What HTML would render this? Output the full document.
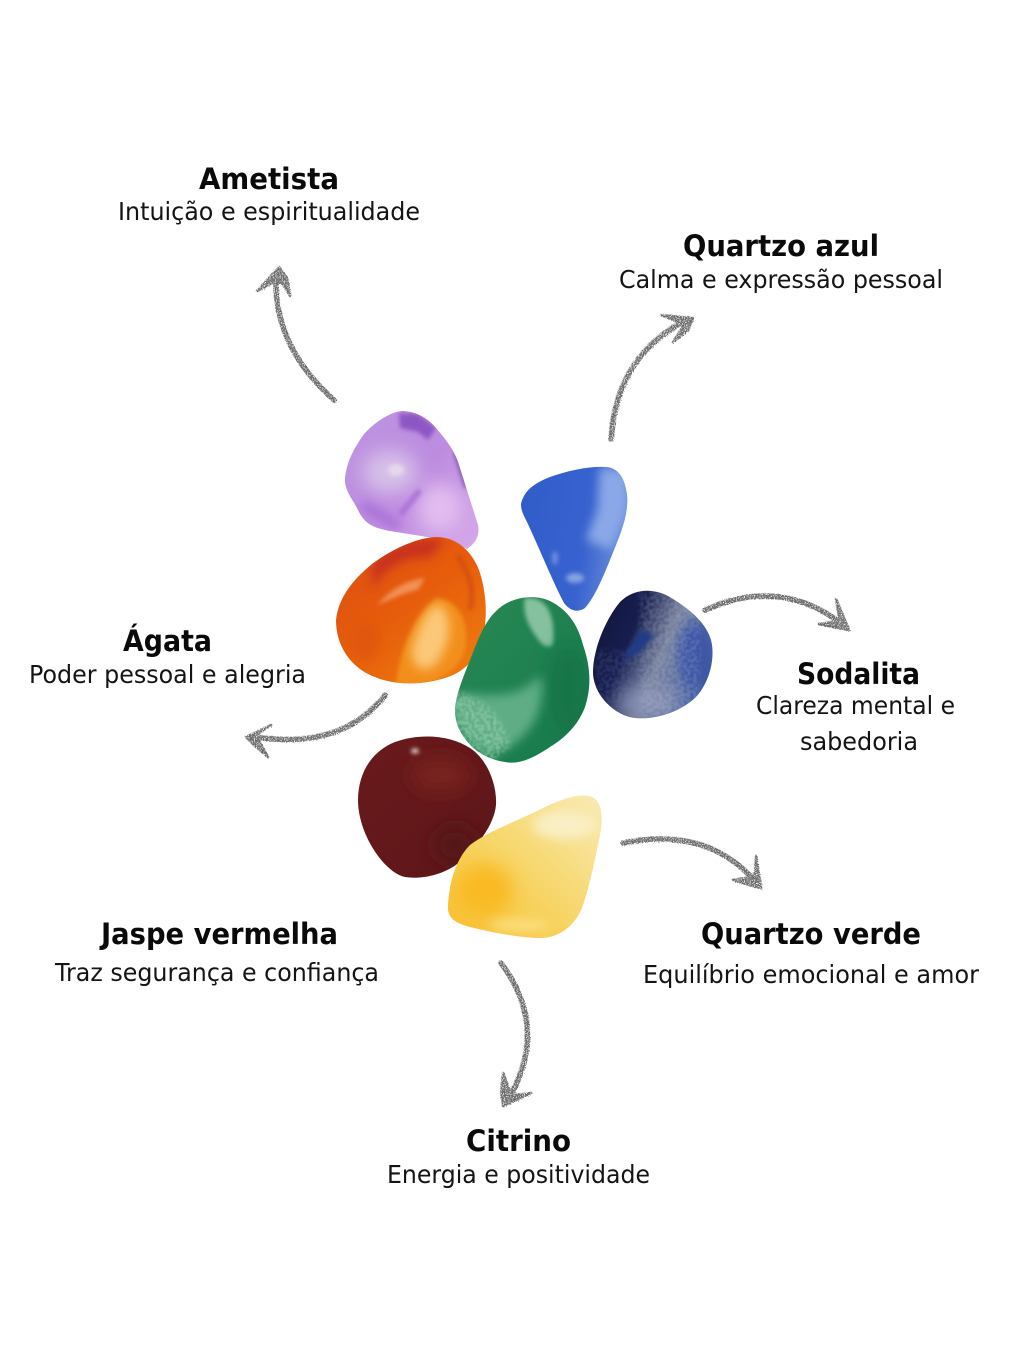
<!DOCTYPE html>
<html lang="pt"><head><meta charset="utf-8"><title>Pedras</title>
<style>html,body{margin:0;padding:0;background:#fff}svg{display:block}
.t{font-family:"DejaVu Sans","Liberation Sans",sans-serif;font-weight:700;font-size:29.5px;fill:#0a0a0a}
.s{font-family:"DejaVu Sans","Liberation Sans",sans-serif;font-size:24.5px;fill:#141414}</style></head>
<body>
<svg xmlns="http://www.w3.org/2000/svg" width="1024" height="1365" viewBox="0 0 1024 1365">
<defs>
<filter id="b2" x="-100%" y="-100%" width="300%" height="300%"><feGaussianBlur stdDeviation="2"/></filter>
<filter id="b5" x="-100%" y="-100%" width="300%" height="300%"><feGaussianBlur stdDeviation="5"/></filter>
<filter id="b9" x="-150%" y="-150%" width="400%" height="400%"><feGaussianBlur stdDeviation="9"/></filter>
<filter id="speck" x="-20%" y="-20%" width="140%" height="140%">
<feGaussianBlur stdDeviation="3" result="s"/>
<feTurbulence type="fractalNoise" baseFrequency="0.32" numOctaves="2" seed="7"/>
<feColorMatrix type="matrix" values="0 0 0 0 0 0 0 0 0 0 0 0 0 0 0 0 0 0 5 -2" result="n"/>
<feComposite in="s" in2="n" operator="in"/>
<feGaussianBlur stdDeviation="0.7"/>
</filter>
<filter id="chalk" x="-20%" y="-20%" width="140%" height="140%">
<feTurbulence type="fractalNoise" baseFrequency="0.9" numOctaves="2" seed="4" result="n"/>
<feDisplacementMap in="SourceGraphic" in2="n" scale="3.5" result="d"/>
<feColorMatrix in="n" type="matrix" values="0 0 0 0 0 0 0 0 0 0 0 0 0 0 0 0 0 0 -5 3.5" result="g"/>
<feComposite in="d" in2="g" operator="in"/>
<feGaussianBlur stdDeviation="0.35"/>
</filter>
<linearGradient id="gA" x1="0" y1="0" x2="1" y2="1"><stop offset="0" stop-color="#bd96e0"/><stop offset=".5" stop-color="#bd8ce0"/><stop offset="1" stop-color="#d9aeea"/></linearGradient>
<linearGradient id="gB" x1="0" y1="0" x2="1" y2=".2"><stop offset="0" stop-color="#2f5cc8"/><stop offset=".65" stop-color="#3862cf"/><stop offset="1" stop-color="#6d90dc"/></linearGradient>
<linearGradient id="gO" x1="0" y1="0" x2=".8" y2="1"><stop offset="0" stop-color="#dc4a18"/><stop offset=".5" stop-color="#e65c0b"/><stop offset="1" stop-color="#ee7d10"/></linearGradient>
<linearGradient id="gG" x1="0" y1="0" x2="1" y2="1"><stop offset="0" stop-color="#2a8a56"/><stop offset="1" stop-color="#14784a"/></linearGradient>
<linearGradient id="gS" x1="0" y1="0" x2="1" y2=".45"><stop offset="0" stop-color="#0e1230"/><stop offset=".42" stop-color="#171e4f"/><stop offset=".66" stop-color="#77829f"/><stop offset="1" stop-color="#3f5aa3"/></linearGradient>
<linearGradient id="gJ" x1="0" y1="0" x2="1" y2="1"><stop offset="0" stop-color="#6a1a1c"/><stop offset="1" stop-color="#5c1619"/></linearGradient>
<linearGradient id="gC" x1="0" y1="1" x2="1" y2="0"><stop offset="0" stop-color="#f8bb25"/><stop offset=".5" stop-color="#f7d76c"/><stop offset="1" stop-color="#f8edbe"/></linearGradient>
<clipPath id="cA"><path d="M402 411C415 411 428 418 436 428C446 440 455 450 460 468L478 525C480 535 476 543 467 549C458 544 450 541 440 539L390 531C375 528 365 525 358 510C352 498 344 490 345 478C347 460 355 447 364 434C375 422 390 412 402 411Z"/></clipPath>
<clipPath id="cB"><path d="M521 504C524 490 535 483 550 477C570 470 590 466 605 467C618 467 625 478 627 495C629 515 620 535 612 555C604 575 595 597 585 608C578 613 570 611 564 603C552 580 538 545 526 520C523 514 521 510 521 504Z"/></clipPath>
<clipPath id="cO"><path d="M336 620C338 600 350 582 372 564C395 547 420 537 438 537C458 538 472 552 479 570C486 590 488 615 483 638C478 655 468 670 448 677C425 685 395 686 375 677C355 670 336 650 336 620Z"/></clipPath>
<clipPath id="cG"><path d="M455 710C456 695 462 680 470 660C478 640 485 618 502 606C515 597 535 594 550 601C568 610 578 625 583 645C590 665 592 685 585 707C578 725 565 738 550 747C535 757 520 765 505 762C490 760 475 752 466 740C458 730 455 720 455 710Z"/></clipPath>
<clipPath id="cS"><path d="M593 672C593 650 605 620 620 602C632 590 650 587 668 596C685 606 705 620 711 640C716 660 708 685 695 698C680 712 655 720 635 718C615 716 593 695 593 672Z"/></clipPath>
<clipPath id="cJ"><path d="M358 800C358 775 370 752 395 742C420 733 450 735 470 748C488 760 497 785 496 805C494 825 478 845 462 860C448 873 425 880 405 877C385 873 358 835 358 800Z"/></clipPath>
<clipPath id="cC"><path d="M448 905C449 885 455 860 470 845C490 830 520 820 545 807C560 800 580 792 592 797C603 802 603 820 600 835C595 860 590 885 582 908C575 925 560 938 540 938C520 938 490 932 470 927C455 923 447 918 448 905Z"/></clipPath>
</defs>
<rect width="1024" height="1365" fill="#fff"/>

<!-- Amethyst -->
<g clip-path="url(#cA)"><rect x="335" y="400" width="155" height="160" fill="url(#gA)"/>
<ellipse cx="390" cy="472" rx="28" ry="22" fill="#d6bfe8" filter="url(#b9)"/>
<ellipse cx="396" cy="470" rx="8" ry="6" fill="#e6d8ec" filter="url(#b2)"/>
<ellipse cx="440" cy="508" rx="22" ry="24" fill="#e3bef0" filter="url(#b9)"/>
<polygon points="399,413 418,414 436,428 428,440 418,432 400,428" fill="#8d56c4" filter="url(#b2)"/>
<path d="M455 452L466 488" stroke="#5e3a8a" stroke-width="2.5" fill="none" filter="url(#b2)"/>
<path d="M362 505L400 527" stroke="#a970d8" stroke-width="10" fill="none" filter="url(#b5)"/>
<path d="M420 490L400 515" stroke="#ab73d8" stroke-width="6" fill="none" filter="url(#b2)"/></g>
<!-- Blue -->
<g clip-path="url(#cB)"><rect x="515" y="460" width="120" height="160" fill="url(#gB)"/>
<polygon points="600,468 628,470 628,510 612,550 586,540 598,510" fill="#8aa8e8" filter="url(#b5)"/>
<ellipse cx="575" cy="578" rx="9" ry="5" fill="#85a2e4" filter="url(#b2)"/>
<ellipse cx="555" cy="558" rx="3" ry="7" fill="#6d8ede" filter="url(#b2)"/></g>
<!-- Orange -->
<g clip-path="url(#cO)"><rect x="330" y="530" width="165" height="160" fill="url(#gO)"/>
<path d="M396 684C400 650 412 620 436 598C458 600 470 620 465 650C455 680 420 690 396 684Z" fill="#f28f1c" filter="url(#b2)"/>
<path d="M412 650C420 620 430 605 440 605C455 620 450 645 435 665C425 672 412 670 412 650Z" fill="#fbc878" filter="url(#b5)"/>
<path d="M372 563C395 540 420 535 445 540L430 558C410 555 385 565 372 590Z" fill="#c8321f" filter="url(#b5)"/>
<path d="M377 605C395 585 410 580 425 578L418 590C405 592 390 600 377 605Z" fill="#f59a63" filter="url(#b2)" opacity=".85"/>
<path d="M458 556C470 575 475 590 470 610" stroke="#d04c12" stroke-width="4" fill="none" filter="url(#b2)"/>
<ellipse cx="365" cy="640" rx="14" ry="20" fill="#e0560e" filter="url(#b5)"/></g>
<!-- Sodalite -->
<g clip-path="url(#cS)"><rect x="585" y="582" width="135" height="145" fill="url(#gS)"/>
<ellipse cx="694" cy="655" rx="16" ry="34" fill="#3a55a5" filter="url(#b5)"/>
<ellipse cx="650" cy="702" rx="30" ry="14" fill="#8992b2" filter="url(#b9)"/>
<rect x="640" y="590" width="60" height="128" fill="#d8dde8" filter="url(#speck)" opacity=".2"/>
<rect x="596" y="650" width="50" height="60" fill="#7f8ec8" filter="url(#speck)" opacity=".2"/>
<polygon points="622,660 640,630 655,635 640,652" fill="#243a86" filter="url(#b2)"/></g>
<!-- Green -->
<g clip-path="url(#cG)"><rect x="445" y="590" width="155" height="180" fill="url(#gG)"/>
<path d="M452 695C470 690 510 705 535 680C545 670 550 690 535 720C520 745 495 760 480 750C460 735 450 715 452 695Z" fill="#5ead85" filter="url(#b5)"/>
<path d="M525 598C545 596 556 612 553 645C545 650 540 642 535 635C528 625 522 612 525 598Z" fill="#a8d6ba" filter="url(#b2)" opacity=".75"/>
<path d="M450 690C480 695 505 715 510 745L490 765L450 740Z" fill="#a9d8bc" filter="url(#speck)" opacity=".5"/>
<ellipse cx="568" cy="690" rx="20" ry="46" fill="#127447" filter="url(#b9)"/></g>
<!-- Jasper -->
<g clip-path="url(#cJ)"><rect x="350" y="730" width="155" height="155" fill="url(#gJ)"/>
<ellipse cx="440" cy="775" rx="30" ry="18" fill="#77201f" filter="url(#b9)"/>
<ellipse cx="455" cy="845" rx="22" ry="20" fill="#541417" filter="url(#b9)"/>
<ellipse cx="415" cy="751" rx="4" ry="2.5" fill="#e8d8d8" filter="url(#b2)"/></g>
<!-- Citrine -->
<g clip-path="url(#cC)"><rect x="440" y="785" width="170" height="160" fill="url(#gC)"/>
<ellipse cx="485" cy="890" rx="28" ry="26" fill="#f9ba22" filter="url(#b9)"/>
<ellipse cx="565" cy="825" rx="32" ry="14" fill="#f9efc4" filter="url(#b5)"/>
<ellipse cx="520" cy="925" rx="30" ry="6" fill="#fbdf7e" filter="url(#b5)"/></g>

<!-- Arrows -->
<g fill="none" stroke="#6a6a6a" stroke-linecap="round" stroke-linejoin="round" stroke-width="5.5" filter="url(#chalk)">
<path d="M334 400Q272 345 276 274"/>
<path d="M611 439Q616 355 688 319"/>
<path d="M705 610Q782 575 846 627"/>
<path d="M623 843Q710 825 759 886"/>
<path d="M501 963Q551 1030 506 1103"/>
<path d="M385 695Q340 752 250 736"/>
<g fill="#6a6a6a" stroke-width="2.5">
<path d="M279 267L257 291L274 282L282 283L290 296L287 278Z"/>
<path d="M693 318L661 315L678 322L684 324L673 342L688 330Z"/>
<path d="M849 630L836 599L839 617L837 621L819 624L838 628Z"/>
<path d="M761 888L756 856L755 872L751 877L733 880L750 885Z"/>
<path d="M503 1106L531 1093L514 1095L510 1092L503 1073L501 1092Z"/>
<path d="M246 737L271 725L258 733L258 739L268 757L254 745Z"/>
</g>
</g>

<!-- Labels -->
<text class="t" x="199" y="189" textLength="140" lengthAdjust="spacingAndGlyphs">Ametista</text>
<text class="s" x="118" y="220" textLength="302" lengthAdjust="spacingAndGlyphs">Intuição e espiritualidade</text>
<text class="t" x="683" y="256" textLength="196" lengthAdjust="spacingAndGlyphs">Quartzo azul</text>
<text class="s" x="619" y="288" textLength="324" lengthAdjust="spacingAndGlyphs">Calma e expressão pessoal</text>
<text class="t" x="797" y="684" textLength="123" lengthAdjust="spacingAndGlyphs">Sodalita</text>
<text class="s" x="756" y="714" textLength="199" lengthAdjust="spacingAndGlyphs">Clareza mental e</text>
<text class="s" x="800" y="750" textLength="118" lengthAdjust="spacingAndGlyphs">sabedoria</text>
<text class="t" x="123" y="651" textLength="89" lengthAdjust="spacingAndGlyphs">Ágata</text>
<text class="s" x="29" y="683" textLength="277" lengthAdjust="spacingAndGlyphs">Poder pessoal e alegria</text>
<text class="t" x="101" y="944" textLength="237" lengthAdjust="spacingAndGlyphs">Jaspe vermelha</text>
<text class="s" x="55" y="981" textLength="324" lengthAdjust="spacingAndGlyphs">Traz segurança e confiança</text>
<text class="t" x="701" y="944" textLength="220" lengthAdjust="spacingAndGlyphs">Quartzo verde</text>
<text class="s" x="643" y="983" textLength="336" lengthAdjust="spacingAndGlyphs">Equilíbrio emocional e amor</text>
<text class="t" x="466" y="1151" textLength="105" lengthAdjust="spacingAndGlyphs">Citrino</text>
<text class="s" x="387" y="1183" textLength="263" lengthAdjust="spacingAndGlyphs">Energia e positividade</text>
</svg>
</body></html>
